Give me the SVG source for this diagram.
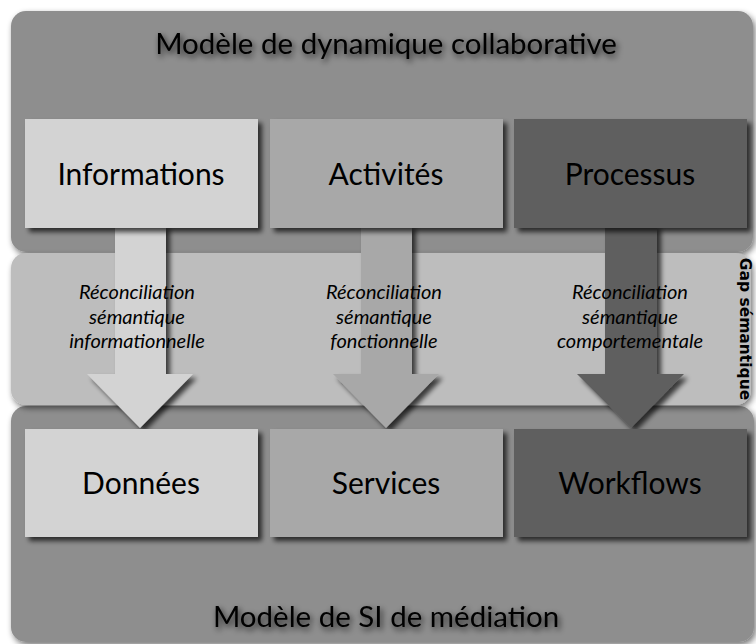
<svg xmlns="http://www.w3.org/2000/svg" width="756" height="644" viewBox="0 0 756 644">
<defs>
<filter id="psh" x="-10%" y="-10%" width="120%" height="130%">
<feGaussianBlur in="SourceAlpha" stdDeviation="3"/>
<feOffset dx="2" dy="3" result="b"/>
<feComponentTransfer><feFuncA type="linear" slope="0.55"/></feComponentTransfer>
<feMerge><feMergeNode/><feMergeNode in="SourceGraphic"/></feMerge>
</filter>
<filter id="bsh" x="-10%" y="-10%" width="125%" height="130%">
<feGaussianBlur in="SourceAlpha" stdDeviation="2.5"/>
<feOffset dx="4" dy="4" result="b"/>
<feComponentTransfer><feFuncA type="linear" slope="0.7"/></feComponentTransfer>
<feMerge><feMergeNode/><feMergeNode in="SourceGraphic"/></feMerge>
</filter>
<filter id="tsh" x="-10%" y="-40%" width="120%" height="180%">
<feGaussianBlur in="SourceAlpha" stdDeviation="3"/>
<feOffset dx="2" dy="3" result="b"/>
<feComponentTransfer><feFuncA type="linear" slope="0.8"/></feComponentTransfer>
<feMerge><feMergeNode/><feMergeNode in="SourceGraphic"/></feMerge>
</filter>
</defs>
<style>
.panel{fill:#8e8e8e}
.band{fill:#bdbdbd}
.c1{fill:#d3d3d3}
.c2{fill:#a8a8a8}
.c3{fill:#5f5f5f}
.lbl{font-family:Lato,"Open Sans",sans-serif;font-size:30px;fill:#000;text-anchor:middle}
.ttl{font-family:Lato,"Open Sans",sans-serif;font-size:29.5px;fill:#000;text-anchor:middle}
.it{font-family:Lato,"Open Sans",sans-serif;font-size:20px;font-style:italic;fill:#000;text-anchor:middle}
.gap{font-family:"DejaVu Sans",Verdana,sans-serif;font-size:15.5px;font-weight:bold;fill:#000;text-anchor:middle}
</style>
<g id="panel-top"><rect class="panel" x="11" y="11" width="742" height="241" rx="15" filter="url(#psh)"/><text class="ttl" x="386" y="54" filter="url(#tsh)">Modèle de dynamique collaborative</text></g>
<g id="panel-bottom"><rect class="panel" x="11" y="406" width="743" height="236" rx="15" filter="url(#psh)"/><text class="ttl" x="386" y="627" filter="url(#tsh)">Modèle de SI de médiation</text></g>
<g id="gap-band"><rect class="band" x="11" y="253" width="740" height="152" rx="15" filter="url(#psh)"/><text class="gap" transform="translate(740,329) rotate(90)">Gap sémantique</text></g>
<g id="connectors">
<polygon class="c1" points="115,225 166,225 166,374 193,374 140,428 87,374 115,374" filter="url(#bsh)"/>
<polygon class="c2" points="361,225 412,225 412,374 439,374 386,428 333,374 361,374" filter="url(#bsh)"/>
<polygon class="c3" points="605,225 657,225 657,374 684,374 631,428 577,374 605,374" filter="url(#bsh)"/>
<text class="it" x="137" y="299">Réconciliation</text><text class="it" x="137" y="324">sémantique</text><text class="it" x="137" y="348">informationnelle</text>
<text class="it" x="384" y="299">Réconciliation</text><text class="it" x="384" y="324">sémantique</text><text class="it" x="384" y="348">fonctionnelle</text>
<text class="it" x="630" y="299">Réconciliation</text><text class="it" x="630" y="324">sémantique</text><text class="it" x="630" y="348">comportementale</text>
</g>
<g id="informations"><rect class="c1" x="25" y="119" width="233" height="109" filter="url(#bsh)"/><text class="lbl" x="141" y="185">Informations</text></g>
<g id="activites"><rect class="c2" x="270" y="119" width="233" height="109" filter="url(#bsh)"/><text class="lbl" x="386" y="185">Activités</text></g>
<g id="processus"><rect class="c3" x="514" y="119" width="233" height="109" filter="url(#bsh)"/><text class="lbl" x="630" y="185">Processus</text></g>
<g id="donnees"><rect class="c1" x="25" y="429" width="233" height="108" filter="url(#bsh)"/><text class="lbl" x="141" y="494">Données</text></g>
<g id="services"><rect class="c2" x="270" y="429" width="233" height="108" filter="url(#bsh)"/><text class="lbl" x="386" y="494">Services</text></g>
<g id="workflows"><rect class="c3" x="514" y="429" width="233" height="108" filter="url(#bsh)"/><text class="lbl" x="630" y="494">Workflows</text></g>
</svg>
